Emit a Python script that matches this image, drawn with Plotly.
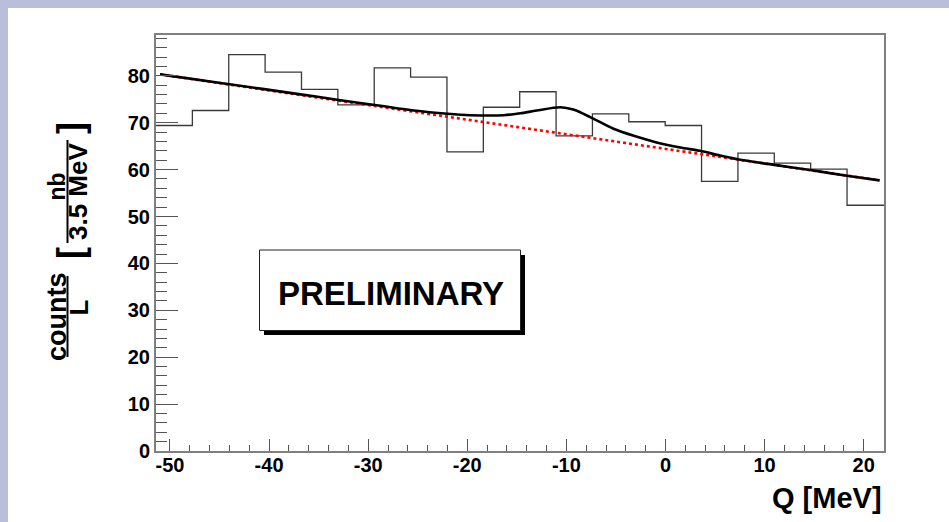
import plotly.graph_objects as go

# ---- data ----
bin_edges = [-51.41, -47.74, -44.07, -40.40, -36.73, -33.06, -29.39, -25.72, -22.05, -18.38,
             -14.71, -11.04, -7.37, -3.70, -0.03, 3.64, 7.31, 10.98, 14.65, 18.32, 22.05]
counts = [69.4, 72.6, 84.5, 80.8, 77.1, 73.8, 81.7, 79.7, 63.8, 73.3,
          76.6, 67.2, 71.9, 70.2, 69.4, 57.5, 63.5, 61.4, 60.1, 52.4]

bg_x = [-51.0, 21.6]
bg_y = [80.3, 57.7]

fit_x = [-51.0, -44.0, -37.0, -32.8, -28.75, -25.4, -22.0, -19.7, -16.3, -14.65, -13.0,
         -10.6, -9.3, -7.6, -5.25, -3.2, -0.9, 1.5, 3.5, 5.5, 7.3, 11.0, 14.6, 18.3, 21.6]
fit_y = [80.3, 78.2, 76.1, 74.8, 73.6, 72.6, 71.9, 71.6, 71.6, 72.0, 72.6,
         73.3, 72.8, 71.2, 68.7, 67.2, 65.8, 64.7, 64.0, 63.0, 62.2, 61.0, 59.9, 58.7, 57.7]

x_ticks = [-50, -40, -30, -20, -10, 0, 10, 20]
y_ticks = [0, 10, 20, 30, 40, 50, 60, 70, 80]

# ---- layout geometry (page pixels; body margin is set to 0) ----
W, H = 949, 522
PX0, PX1, PY0, PY1 = 156, 884, 35, 451          # plot area
L, R, T, B = PX0, W - PX1, PY0, H - PY1
PW, PH = W - L - R, H - T - B
LAV = "#b9bedb"


def X(px):
    return (px - PX0) / PW


def Y(py):
    return (PY1 - py) / PH


FONT = "Liberation Sans, Arial, sans-serif"
bold = dict(family=FONT, color="black", weight="bold")

fig = go.Figure()
fig.add_trace(go.Scatter(x=bin_edges, y=counts + [counts[-1]], mode="lines",
                         line=dict(shape="hv", color="#3a3a3a", width=1.3),
                         hoverinfo="skip", showlegend=False))
fig.add_trace(go.Scatter(x=bg_x, y=bg_y, mode="lines",
                         line=dict(color="#ff0000", width=2.6, dash="dot"),
                         showlegend=False))
fig.add_trace(go.Scatter(x=fit_x, y=fit_y, mode="lines",
                         line=dict(color="#000000", width=2.6, shape="spline", smoothing=0.8),
                         showlegend=False))

shapes = [
    # lavender frame strips (top and left)
    dict(type="rect", xref="paper", yref="paper", x0=X(-2), x1=X(W + 2), y0=Y(-2), y1=Y(8),
         fillcolor=LAV, line=dict(width=0), layer="below"),
    dict(type="rect", xref="paper", yref="paper", x0=X(-2), x1=X(8), y0=Y(-2), y1=Y(H + 2),
         fillcolor=LAV, line=dict(width=0), layer="below"),
    # PRELIMINARY box shadow
    dict(type="rect", xref="paper", yref="paper", x0=X(264), x1=X(525), y0=Y(255), y1=Y(335),
         fillcolor="black", line=dict(width=0)),
    # PRELIMINARY box
    dict(type="rect", xref="paper", yref="paper", x0=X(259.5), x1=X(520.5), y0=Y(250), y1=Y(330.5),
         fillcolor="white", line=dict(color="#222", width=1)),
    # fraction bars of the y title
    dict(type="line", xref="paper", yref="paper", x0=X(67.5), x1=X(67.5), y0=Y(276), y1=Y(357),
         line=dict(color="black", width=2)),
    dict(type="line", xref="paper", yref="paper", x0=X(67.5), x1=X(67.5), y0=Y(140), y1=Y(243),
         line=dict(color="black", width=2)),
]


def ann(text, px, py, size, angle=0, xanchor="center"):
    return dict(text=text, x=X(px), y=Y(py), xref="paper", yref="paper", textangle=angle,
                showarrow=False, xanchor=xanchor, yanchor="middle",
                font=dict(size=size, **bold))


annotations = [
    ann("PRELIMINARY", 391, 293, 33),
    ann("Q [MeV]", 884, 498, 29, xanchor="right"),
    ann("counts", 57, 317, 27, -90),
    ann("L", 78, 307.5, 26, -90),
    ann("[", 70, 253, 36, -90),
    ann("nb", 56.5, 187, 23, -90),
    ann("3.5 MeV", 77.5, 191.5, 26, -90),
    ann("]", 70, 128, 36, -90),
]

axis_common = dict(ticks="inside", tickcolor="#555", tickwidth=1.3,
                   showline=True, linecolor="#808080", linewidth=2, mirror=True,
                   showgrid=False, zeroline=False, tickfont=dict(size=20, **bold))

fig.update_layout(
    width=W, height=H,
    margin=dict(l=L, r=R, t=T, b=B, pad=0),
    paper_bgcolor="white",
    plot_bgcolor="white",
    shapes=shapes,
    annotations=annotations,
    showlegend=False,
    xaxis=dict(range=[-51.41, 22.05], tickvals=x_ticks, ticktext=[str(v) for v in x_ticks],
               ticklen=12, ticklabelstandoff=-5,
               minor=dict(ticks="inside", dtick=2, tick0=0, ticklen=6, tickcolor="#555", tickwidth=1),
               **axis_common),
    yaxis=dict(range=[0, 88.7], tickvals=y_ticks, ticktext=[str(v) for v in y_ticks],
               ticklen=22,
               minor=dict(ticks="inside", dtick=2, tick0=0, ticklen=11, tickcolor="#555", tickwidth=1),
               **axis_common),
)

fig.write_html("out.html",
               config={"displayModeBar": False},
               post_script="document.body.style.margin='0';document.body.style.overflow='hidden';"
                           "document.body.style.backgroundColor='white';")
